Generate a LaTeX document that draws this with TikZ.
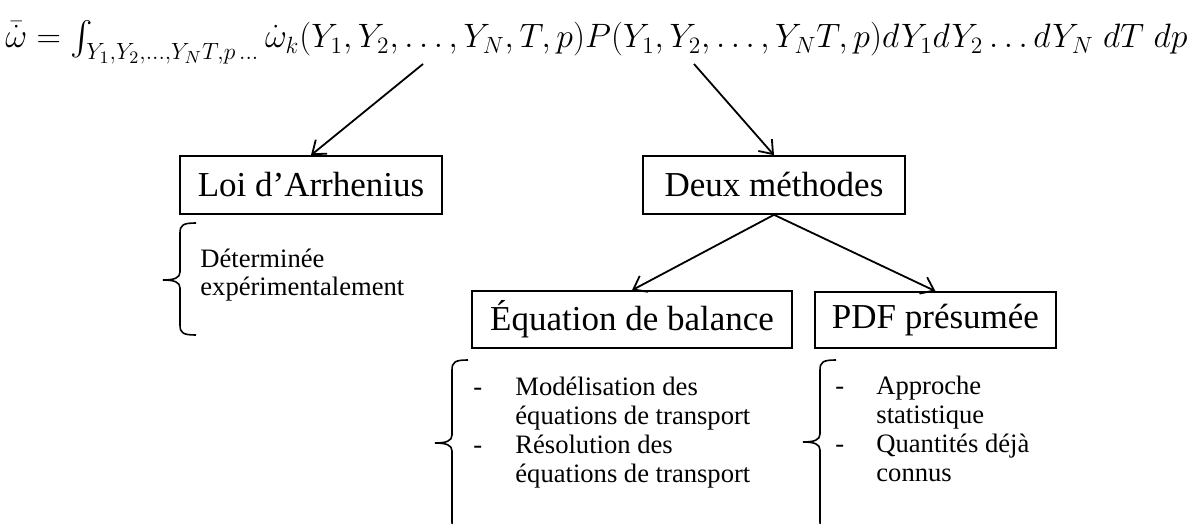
\documentclass[tikz,border=0pt]{standalone}
\usepackage{amsmath}
\usepackage{graphicx}
\usepackage{fontspec}
\setmainfont{Liberation Serif}
\usetikzlibrary{arrows.meta,positioning}

\begin{document}
\begin{tikzpicture}[x=0.5pt,y=-0.5pt,
  boite/.style={draw,line width=0.8pt,inner sep=0pt,
                font=\fontsize{17.5}{21}\selectfont},
  liste/.style={anchor=base west,align=left,inner sep=0pt,
                font=\fontsize{13.3}{14.5}\selectfont},
  fleche/.style={-{Straight Barb[length=6pt,width=9pt]},line width=0.9pt},
  accolade/.style={line width=0.8pt}]
  \useasboundingbox (0,0) rectangle (1194,524);
  % formule
  \node[anchor=base west,inner sep=0pt] (formule) at (5,48)
    {\resizebox{591pt}{!}{\fontsize{18}{18}\selectfont
     $\bar{\dot{\omega}}=\textstyle\int_{Y_1,Y_2,\dots,Y_N T,p\,\dots}
      \dot{\omega}_k(Y_1,Y_2,\dots,Y_N,T,p)P(Y_1,Y_2,\dots,Y_N T,p)
      dY_1dY_2\dots dY_N\;dT\;dp$}};
  \coordinate (depart1) at (423,64);
  \coordinate (depart2) at (694,64);
  % boites
  \node[boite,minimum width=131pt,minimum height=29pt] (loi) at (311,185) {Loi d’Arrhenius};
  \node[boite,minimum width=131pt,minimum height=29pt] (deux) at (774,185) {Deux méthodes};
  \node[boite,minimum width=160pt,minimum height=28.5pt] (bilan) at (632,319.5) {Équation de balance};
  \node[boite,minimum width=120.5pt,minimum height=28pt] (pdf) at (935.5,320) {PDF présumée};
  % fleches
  \draw[fleche] (depart1) -- (loi.north);
  \draw[fleche] (depart2) -- (deux.north);
  \draw[fleche] (deux.south) -- (bilan.north);
  \draw[fleche] (deux.south) -- (pdf.north);
  % accolades
  \foreach \bx/\bt/\bm/\bb in {180/223/280/335, 452/360/443/532, 820/360/442/532}{
    \draw[accolade] (\bx+16,\bt) .. controls (\bx+3,\bt) and (\bx,\bt+2) .. (\bx,\bt+10)
      -- (\bx,\bm-8) .. controls (\bx,\bm-2) and (\bx-6,\bm) .. (\bx-17,\bm)
      .. controls (\bx-6,\bm) and (\bx,\bm+2) .. (\bx,\bm+8)
      -- (\bx,\bb-10) .. controls (\bx,\bb-2) and (\bx+3,\bb) .. (\bx+16,\bb);
  }
  % listes (ancre sur la derniere ligne)
  \node[liste,font=\fontsize{13.3}{14}\selectfont] (exp) at (200,295)
    {Déterminée\\expérimentalement};
  \node[liste] (modele) at (473,482)
    {\makebox[21pt][l]{-}Modélisation des\\\makebox[21pt][l]{}équations de transport\\
     \makebox[21pt][l]{-}Résolution des\\\makebox[21pt][l]{}équations de transport};
  \node[liste] (stat) at (835,481)
    {\makebox[20.5pt][l]{-}Approche\\\makebox[20.5pt][l]{}statistique\\
     \makebox[20.5pt][l]{-}Quantités déjà\\\makebox[20.5pt][l]{}connus};
\end{tikzpicture}
\end{document}
